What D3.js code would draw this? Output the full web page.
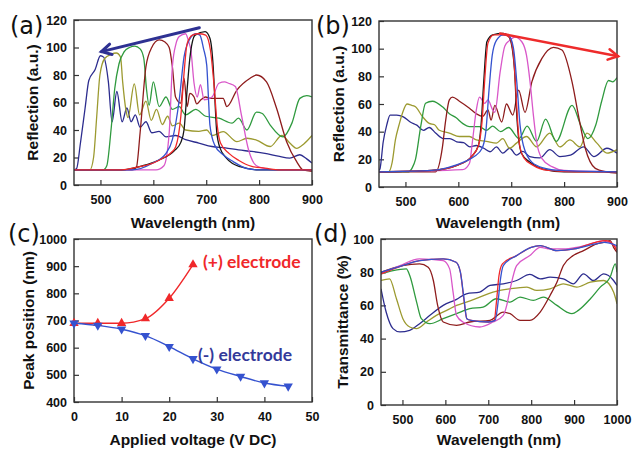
<!DOCTYPE html>
<html>
<head>
<meta charset="utf-8">
<script src="https://cdn.jsdelivr.net/npm/d3@7"></script>
<style>
  html, body { margin: 0; padding: 0; background: #fff; }
  svg { display: block; }
  .tick text { font-family: "Liberation Sans", Arial, sans-serif; font-weight: 700; font-size: 12.5px; fill: #111; }
  .axis-title { font-family: "Liberation Sans", Arial, sans-serif; font-weight: 700; font-size: 15.5px; fill: #111; }
  .panel-label { font-family: "DejaVu Sans", sans-serif; font-size: 24px; fill: #111; }
  .series-label { font-family: "Lato", sans-serif; font-weight: 700; font-size: 17.5px; }
</style>
</head>
<body>
<div id="chart"></div>
<script>
// ---- (a) reflection, (-) electrode : [wavelength nm, reflection a.u.]
const aNavy = [[450,11],[455,12],[462,30],[471,56],[478,76],[490,84],[500,94],[506,93],[515,75],[522,46],[531,68],[541,46],[550,56],[558,46],[566,51],[575,42],[586,46],[597,38],[611,39],[624,35],[642,36],[661,33],[686,30.5],[711,28],[736,27],[761,25.5],[786,24.4],[811,23],[836,21],[858,19.6],[877,22],[890,19],[900,16]];
const aOlive = [[450,11],[470,11],[480,11],[487,20],[493,50],[499,80],[508,92],[520,95],[530,96],[538,93],[542,75],[548,55],[552,49],[564,73.5],[574,51],[586,61],[596,47],[606,55],[617,44],[627,50],[636,43],[649,45],[661,40],[686,39],[701,40],[711,36],[732,38.8],[758,31.5],[777,34],[795,32.7],[821,28],[843,36],[858,30.5],[871,26.7],[885,30],[900,36]];
const aGreen = [[450,11],[505,11],[512,14],[520,40],[527,70],[535,88],[545,97],[555,100],[565,101],[575,99],[582,92],[587,70],[592,58],[600,75],[611,57],[624,64],[636,55],[649,57],[661,51],[680,55],[699,50],[724,48.6],[749,45],[761,48.6],[777,40],[795,53],[806,52],[821,43.6],[845,35],[862,45],[877,63],[890,65],[900,64]];
const aDarkRed = [[450,11],[560,11],[568,13],[575,38],[586,86],[597,100],[611,105.5],[622,104],[630,100],[636,86],[642,64],[652,59.5],[658,77.7],[664,57],[669,66.7],[677,64],[682,59],[690,62],[699,64],[707,63],[720,63],[732,63],[739,57],[758,69],[783,77.6],[795,80],[814,75],[833,55.8],[852,31.5],[871,17],[883,11],[900,10]];
const aMagenta = [[450,11],[605,11],[620,14],[630,38],[636,86],[643,103],[649,108],[661,110],[667,104],[671,98],[677,74],[683,64],[689,73],[696,62],[711,64],[724,74],[735,75],[742,74],[755,71.6],[767,50],[780,25.6],[790,16],[800,13],[830,11],[900,11]];
const aBlack = [[450,11],[540,11],[580,14],[610,18],[640,25],[652,31],[658,40],[664,70],[669,92],[679,109],[698,111.5],[707,106.7],[713,87],[716.6,60.6],[719.8,38.8],[726,27],[738.6,19.4],[764,13.3],[800,11],[900,11]];
const aBlue = [[450,11],[560,11],[599,16],[624,23],[636,33],[649,62],[658,93],[668,105.5],[680,110],[688,109],[695,99],[701,87],[704,65],[707,43.6],[716,29],[732,22],[751,17],[777,12],[800,11],[900,11]];
const aRed = [[450,11],[540,11],[570,13],[600,16],[620,20],[635,24],[642.5,28],[652,50],[658,81],[664,103],[674,109],[686,110],[699,109],[708,98],[715,71.6],[721,42.6],[727,30.5],[743,23],[761,18],[786,13.5],[811,12.3],[840,11],[900,11]];

// ---- (b) reflection, (+) electrode
const bNavy = [[450,12],[452,13.4],[458,32.7],[464.6,44.7],[471,52],[483.5,52],[496,50.7],[509,47],[521.5,44.7],[534,41],[545,43],[557,39],[572,35],[584,35],[597,32.7],[610,32],[622,29],[634,30],[648,28],[660,25.5],[672,29],[684,24.5],[697,28],[710,23],[722,25.7],[735,22],[754,21],[773,27],[792,22],[812,23],[837,29],[856,22],[881,28],[900,24.5]];
const bOlive = [[450,11],[468,11],[475,18],[481,34],[488,45],[494,53],[503,60],[512,59],[519,58],[532,51],[545,46],[555,45],[564,41],[583,39],[602,36.5],[621,36.5],[634,34],[653,33],[672,31.7],[684,35],[697,28],[710,31.7],[729,36.5],[748,29],[773,39],[792,29],[811,34],[830,29],[843,39],[862,31.7],[881,24.5],[900,27]];
const bGreen = [[450,11],[506,11],[513,14],[519,20],[529,44],[538,60.5],[551,62],[570,58],[583,53],[596,50],[608,46],[621,43.7],[640,43.7],[653,41],[665,44],[680,40],[695,43],[715,35],[730,44],[748,33],[765,49],[785,33],[815,59],[832,44],[845,35],[860,45],[871,62],[884,77],[892,76],[900,79]];
const bDarkRed = [[450,11],[557,11],[570,29],[576,48],[583,63],[589,65],[602,62],[621,57],[634,53],[646,51],[656,55.7],[662,48.4],[669,59],[682,47],[691,60],[703,52],[714,70],[726,54],[739,76],[758,93],[780,101],[796,99],[815,76],[827,52],[840,28],[859,13.5],[880,11],[900,10]];
const bMagenta = [[450,11],[608,12.5],[621,17],[627,34],[634,55.7],[640,65],[650,60.5],[656,63],[665,55.7],[669,54],[679,83],[688,102],[697,106],[707,108.4],[720,105],[729,95],[735.6,76],[741.9,52],[748,32.7],[757.8,20.7],[777,14.7],[800,12],[900,11]];
const bBlack = [[450,11],[550,12],[600,16],[625,22],[638,30],[643,45],[648,76],[654,105],[665,110],[685,111],[695,109],[702,100],[707,80],[710,55],[714,35],[720,24],[735,18],[760,13],[800,11],[900,11]];
const bRed = [[450,11],[550,12],[600,16],[625,22],[638,30],[645,48],[650,78],[656,104],[667,110],[687,110],[697,108],[704,96],[708,75],[712,48],[716,30],[724,21],[740,16],[770,12],[820,11],[900,11]];
const bBlue = [[450,11],[550,12],[580,14],[610,18],[630,22],[645,28],[652,40],[658,70],[664,95],[672,106],[685,110],[694.5,109.7],[704,101],[710.5,76],[716.7,44.7],[723,30],[739,18],[764,13.5],[790,12],[900,11]];

// ---- (c) peak position vs applied voltage
const cVoltPlus = [0, 5, 10, 15, 20, 25];
const cPeakPlus = [690, 690, 690, 707, 782, 906];
const cVoltMinus = [0, 5, 10, 15, 20, 25, 30, 35, 40, 45];
const cPeakMinus = [690, 682, 668, 644, 604, 559, 521, 494, 470, 458];

// ---- (d) transmittance
const dNavy = [[450,70],[462,56],[478,46],[494,44],[517,45],[540,49],[564,54],[595,60],[626,63.6],[649,67],[680,68],[704,72],[735,73],[766,75],[797,78.7],[821,76],[844,77],[875,76],[898,73],[922,79],[945,75],[969,79],[992,75],[1000,72]];
const dOlive = [[450,75],[470,76],[486,64],[501,52],[517,47],[533,46],[556,50],[579,54],[603,57],[626,60],[649,62],[680,65],[711,68],[751,70],[790,71],[813,69],[844,70],[875,73],[906,71],[938,74],[969,75],[992,68],[1000,61]];
const dGreen = [[450,79],[478,81],[509,82],[517,78],[533,62],[544,52],[564,49],[595,52],[626,55],[657,58],[688,59],[719,64],[751,62],[774,65],[805,63],[828,65],[860,60],[883,56],[895,55],[910,57],[938,64],[961,71],[984,77],[996,85],[1000,80]];
const dDarkRed = [[450,80],[500,84],[540,85],[560,83],[572,75],[582,60],[595,50],[626,48],[657,50],[704,51],[735,56],[751,55],[774,51],[797,51],[821,56],[844,66],[860,74],[875,84],[898,90],[922,93],[953,97],[969,98],[984,99],[992,95],[1000,92]];
const dMagenta = [[450,79],[494,84],[540,88],[595,87],[610,82],[618,68],[626,54],[641,50],[680,47],[711,50],[735,54],[743,60],[751,70],[766,84],[797,90],[821,95],[844,94],[875,94],[906,95],[938,97],[969,99],[1000,95]];
const dRed = [[450,79],[500,84],[540,87],[595,88],[625,86],[635,80],[643,64],[650,52],[660,51],[700,50],[714,51],[719,62],[725,78],[733,85],[766,90],[800,95],[821,96],[860,93],[900,94],[950,98],[975,99],[990,97],[1000,93]];
const dBlue = [[450,80],[500,84],[540,87],[595,88],[625,86],[635,80],[643,65],[650,52],[660,51],[700,50],[716,51],[722,60],[728,75],[735,84],[766,90],[800,95],[821,96],[860,93],[900,94],[950,97],[970,98],[1000,96]];

// tick labels
const reflTicks = [0, 20, 40, 60, 80, 100, 120];
const waveTicksAB = [500, 600, 700, 800, 900];
const voltTicks = [0, 10, 20, 30, 40, 50];
const peakTicks = [400, 500, 600, 700, 800, 900, 1000];
const waveTicksD = [500, 600, 700, 800, 900, 1000];
const transTicks = [0, 20, 40, 60, 80, 100];

const Figure = (() => {
  const WIDTH = 633;
  const HEIGHT = 449;

  const COLORS = {
    navy: "#2c2c8e",
    olive: "#9c9a30",
    green: "#2f9a3e",
    darkRed: "#8e1c1c",
    magenta: "#d957c9",
    black: "#151515",
    blue: "#3552cf",
    red: "#f0282a",
    frame: "#333",
    arrowBlue: "#2e3192",
    arrowRed: "#ee2b2b",
  };

  // plot frames in page pixels
  const PANELS = {
    a: { x0: 74, x1: 312, y0: 20, y1: 185 },
    b: { x0: 379, x1: 617, y0: 21, y1: 187 },
    c: { x0: 74, x1: 312, y0: 239, y1: 402 },
    d: { x0: 381, x1: 617, y0: 239, y1: 405 },
  };

  function init() {
    const svg = d3
      .select("#chart")
      .append("svg")
      .attr("width", WIDTH)
      .attr("height", HEIGHT);

    const spectraA = [
      { data: aNavy, color: COLORS.navy },
      { data: aOlive, color: COLORS.olive },
      { data: aGreen, color: COLORS.green },
      { data: aDarkRed, color: COLORS.darkRed },
      { data: aMagenta, color: COLORS.magenta },
      { data: aBlack, color: COLORS.black },
      { data: aBlue, color: COLORS.blue },
      { data: aRed, color: COLORS.red },
    ];
    const spectraB = [
      { data: bNavy, color: COLORS.navy },
      { data: bOlive, color: COLORS.olive },
      { data: bGreen, color: COLORS.green },
      { data: bDarkRed, color: COLORS.darkRed },
      { data: bMagenta, color: COLORS.magenta },
      { data: bBlack, color: COLORS.black },
      { data: bRed, color: COLORS.red },
      { data: bBlue, color: COLORS.blue },
    ];
    const spectraD = [
      { data: dNavy, color: COLORS.navy },
      { data: dOlive, color: COLORS.olive },
      { data: dGreen, color: COLORS.green },
      { data: dDarkRed, color: COLORS.darkRed },
      { data: dMagenta, color: COLORS.magenta },
      { data: dRed, color: COLORS.red },
      { data: dBlue, color: COLORS.blue },
    ];

    // (a)
    const pa = drawFrame(svg, PANELS.a, {
      xDomain: [450, 900], yDomain: [0, 120],
      xTicks: waveTicksAB, yTicks: reflTicks,
      label: "(a)", labelPos: [10, 34],
      xTitle: "Wavelength (nm)", xTitleY: 228,
      yTitle: "Reflection (a.u.)", yTitleX: 38,
    });
    drawSpectra(pa, spectraA);
    drawArrow(pa, [687, 114.4], [502, 97], COLORS.arrowBlue, 3);

    // (b)
    const pb = drawFrame(svg, PANELS.b, {
      xDomain: [450, 900], yDomain: [0, 120],
      xTicks: waveTicksAB, yTicks: reflTicks,
      label: "(b)", labelPos: [316, 34],
      xTitle: "Wavelength (nm)", xTitleY: 228,
      yTitle: "Reflection (a.u.)", yTitleX: 344,
    });
    drawSpectra(pb, spectraB);
    drawArrow(pb, [679, 111], [902, 94.5], COLORS.arrowRed, 2.5);

    // (c)
    const pc = drawFrame(svg, PANELS.c, {
      xDomain: [0, 50], yDomain: [400, 1000],
      xTicks: voltTicks, yTicks: peakTicks,
      label: "(c)", labelPos: [8, 242],
      xTitle: "Applied voltage (V DC)", xTitleY: 445,
      yTitle: "Peak position (nm)", yTitleX: 34,
    });
    drawPeaks(pc);

    // (d)
    const pd = drawFrame(svg, PANELS.d, {
      xDomain: [450, 1000], yDomain: [0, 100],
      xTicks: waveTicksD, yTicks: transTicks,
      label: "(d)", labelPos: [314, 242],
      xTitle: "Wavelength (nm)", xTitleY: 445,
      yTitle: "Transmittance (%)", yTitleX: 348,
    });
    drawSpectra(pd, spectraD);
  }

  /**
   * Frame, inward ticks, tick labels and titles for one panel
   */
  function drawFrame(svg, box, opt) {
    const x = d3.scaleLinear().domain(opt.xDomain).range([box.x0, box.x1]);
    const y = d3.scaleLinear().domain(opt.yDomain).range([box.y1, box.y0]);
    const g = svg.append("g");
    const fmt = d3.format("d");

    const clipId = "clip" + Math.round(box.x0) + "_" + Math.round(box.y0);
    svg.append("clipPath").attr("id", clipId)
      .append("rect")
      .attr("x", box.x0).attr("y", box.y0)
      .attr("width", box.x1 - box.x0).attr("height", box.y1 - box.y0);

    g.append("g")
      .attr("transform", `translate(0,${box.y1})`)
      .call(d3.axisBottom(x).tickValues(opt.xTicks).tickFormat(fmt).tickSize(-5).tickPadding(10))
      .call((ax) => ax.select(".domain").remove())
      .call((ax) => ax.selectAll("line").attr("stroke", COLORS.frame).attr("stroke-width", 1.2));

    g.append("g")
      .attr("transform", `translate(${box.x0},0)`)
      .call(d3.axisLeft(y).tickValues(opt.yTicks).tickFormat(fmt).tickSize(-5).tickPadding(7))
      .call((ax) => ax.select(".domain").remove())
      .call((ax) => ax.selectAll("line").attr("stroke", COLORS.frame).attr("stroke-width", 1.2));

    const plot = g.append("g").attr("clip-path", `url(#${clipId})`);

    g.append("rect")
      .attr("x", box.x0).attr("y", box.y0)
      .attr("width", box.x1 - box.x0).attr("height", box.y1 - box.y0)
      .attr("fill", "none")
      .attr("stroke", COLORS.frame)
      .attr("stroke-width", 1.4);

    g.append("text")
      .attr("class", "panel-label")
      .attr("x", opt.labelPos[0]).attr("y", opt.labelPos[1])
      .text(opt.label);

    g.append("text")
      .attr("class", "axis-title")
      .attr("x", (box.x0 + box.x1) / 2).attr("y", opt.xTitleY)
      .attr("text-anchor", "middle")
      .text(opt.xTitle);

    g.append("text")
      .attr("class", "axis-title")
      .attr("transform", `translate(${opt.yTitleX},${(box.y0 + box.y1) / 2}) rotate(-90)`)
      .attr("text-anchor", "middle")
      .text(opt.yTitle);

    return { g, plot, x, y };
  }

  function drawSpectra(p, series) {
    const line = d3.line()
      .x((d) => p.x(d[0]))
      .y((d) => p.y(d[1]))
      .curve(d3.curveMonotoneX);

    p.plot.selectAll(".spectrum")
      .data(series)
      .enter()
      .append("path")
      .attr("class", "spectrum")
      .attr("d", (d) => line(d.data))
      .attr("fill", "none")
      .attr("stroke", (d) => d.color)
      .attr("stroke-width", 1.3)
      .attr("stroke-linejoin", "round");
  }

  function drawArrow(p, from, to, color, width) {
    const x1 = p.x(from[0]), y1 = p.y(from[1]);
    const x2 = p.x(to[0]), y2 = p.y(to[1]);
    const ang = Math.atan2(y2 - y1, x2 - x1);
    const head = 11, spread = 0.5;

    p.g.append("line")
      .attr("x1", x1).attr("y1", y1).attr("x2", x2).attr("y2", y2)
      .attr("stroke", color).attr("stroke-width", width)
      .attr("stroke-linecap", "round");

    p.g.append("path")
      .attr("d", `M${x2 - head * Math.cos(ang - spread)},${y2 - head * Math.sin(ang - spread)}L${x2},${y2}L${x2 - head * Math.cos(ang + spread)},${y2 - head * Math.sin(ang + spread)}`)
      .attr("fill", "none")
      .attr("stroke", color).attr("stroke-width", width)
      .attr("stroke-linecap", "round").attr("stroke-linejoin", "miter");
  }

  function drawPeaks(p) {
    const plus = cVoltPlus.map((v, i) => [v, cPeakPlus[i]]);
    const minus = cVoltMinus.map((v, i) => [v, cPeakMinus[i]]);
    const line = d3.line()
      .x((d) => p.x(d[0]))
      .y((d) => p.y(d[1]))
      .curve(d3.curveMonotoneX);

    [
      { data: plus, color: COLORS.red, rot: 0 },
      { data: minus, color: COLORS.blue, rot: 180 },
    ].forEach((s) => {
      p.g.append("path")
        .attr("d", line(s.data))
        .attr("fill", "none")
        .attr("stroke", s.color)
        .attr("stroke-width", 1.4);

      p.g.selectAll(null)
        .data(s.data)
        .enter()
        .append("path")
        .attr("d", d3.symbol().type(d3.symbolTriangle).size(38))
        .attr("transform", (d) => `translate(${p.x(d[0])},${p.y(d[1])}) rotate(${s.rot})`)
        .attr("fill", s.color);
    });

    p.g.append("text")
      .attr("class", "series-label")
      .attr("x", 203).attr("y", 268)
      .attr("fill", COLORS.red)
      .text("(+) electrode");

    p.g.append("text")
      .attr("class", "series-label")
      .attr("x", 198).attr("y", 361)
      .attr("fill", "#33399a")
      .text("(-) electrode");
  }

  return { init };
})();

Figure.init();
</script>
</body>
</html>
